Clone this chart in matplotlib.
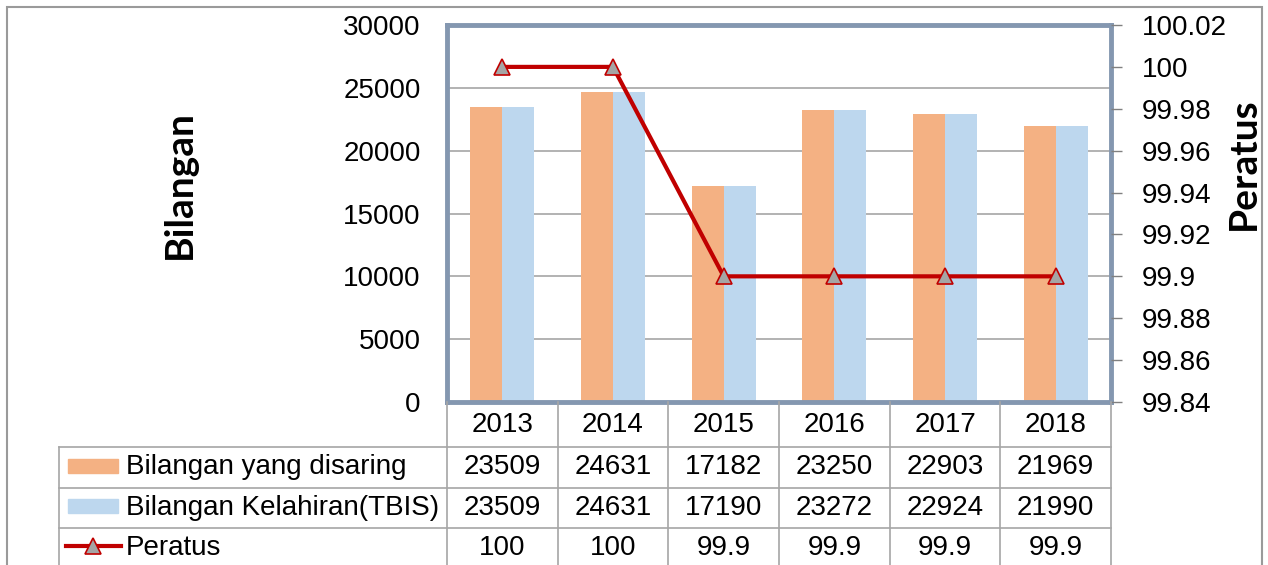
import numpy as np
import matplotlib.pyplot as plt
from matplotlib.lines import Line2D
from matplotlib.patches import Rectangle

# data
years = ['2013', '2014', '2015', '2016', '2017', '2018']
disaring = [23509, 24631, 17182, 23250, 22903, 21969]
kelahiran = [23509, 24631, 17190, 23272, 22924, 21990]
peratus = [100, 100, 99.9, 99.9, 99.9, 99.9]
peratus_txt = ['100', '100', '99.9', '99.9', '99.9', '99.9']

ORANGE = '#F4B183'
BLUE = '#BDD7EE'
RED = '#C00000'
SPINE = '#8497B0'
GRID = '#A6A6A6'
FS = 20

W, H = 1268, 565
plt.rcParams['font.family'] = ['Liberation Sans', 'DejaVu Sans']

fig = plt.figure(figsize=(W / 100, H / 100), dpi=100)


def fx(x):
    return x / W


def fy(y):
    return 1 - y / H


# plot area in image pixels
L, R, T, B = 447, 1111, 25, 402
ax = fig.add_axes([fx(L), fy(B), fx(R) - fx(L), fy(T) - fy(B)])

x = np.arange(len(years))
bw = 0.29
ax.bar(x - bw / 2, disaring, bw, color=ORANGE, zorder=2)
ax.bar(x + bw / 2, kelahiran, bw, color=BLUE, zorder=2)
ax.set_xlim(-0.5, len(years) - 0.5)
ax.set_ylim(0, 30000)
ax.set_yticks(np.arange(0, 30001, 5000))
ax.set_xticks([])
ax.grid(axis='y', color=GRID, linewidth=1.2, zorder=0)
ax.tick_params(axis='y', length=0, labelsize=FS, pad=19)
for s in ax.spines.values():
    s.set_color(SPINE)
    s.set_linewidth(3.5)

ax2 = ax.twinx()
ax2.plot(x, peratus, color=RED, linewidth=3, marker='^', markersize=12,
         markerfacecolor='#A5A5A5', markeredgecolor=RED, markeredgewidth=1.2,
         zorder=5, clip_on=False)
ax2.set_ylim(99.84, 100.02)
ax2.set_yticks(np.arange(99.84, 100.021, 0.02))
ax2.set_yticklabels(['99.84', '99.86', '99.88', '99.9', '99.92', '99.94',
                     '99.96', '99.98', '100', '100.02'])
ax2.tick_params(axis='y', length=8, width=1, color='#808080', labelsize=FS, pad=14)
for s in ax2.spines.values():
    s.set_visible(False)

fig.text(fx(179), fy(185), 'Bilangan', rotation=90, ha='center', va='center',
         fontsize=28, fontweight='bold', family=['Lato', 'DejaVu Sans'])
fig.text(fx(1243), fy(164), 'Peratus', rotation=90, ha='center', va='center',
         fontsize=28, fontweight='bold', family=['Lato', 'DejaVu Sans'])

# outer chart border
fig.add_artist(Rectangle((fx(7), fy(H + 20)), fx(1262) - fx(7), fy(7) - fy(H + 20),
                         fill=False, edgecolor='#9A9A9A', linewidth=1.5,
                         transform=fig.transFigure))

# data table
colw = (R - L) / len(years)
tl = 59
rows_y = [447, 488, 528, 569]
tline = dict(color=GRID, linewidth=1.2, transform=fig.transFigure)
for yy in rows_y:
    fig.add_artist(Line2D([fx(tl), fx(R)], [fy(yy), fy(yy)], **tline))
fig.add_artist(Line2D([fx(tl), fx(tl)], [fy(447), fy(H + 5)], **tline))
for i in range(len(years) + 1):
    xx = L + i * colw
    fig.add_artist(Line2D([fx(xx), fx(xx)], [fy(B), fy(H + 5)], **tline))

for i, yr in enumerate(years):
    cx = fx(L + (i + 0.5) * colw)
    fig.text(cx, fy(425), yr, ha='center', va='center', fontsize=FS)
    fig.text(cx, fy(467), str(disaring[i]), ha='center', va='center', fontsize=FS)
    fig.text(cx, fy(508), str(kelahiran[i]), ha='center', va='center', fontsize=FS)
    fig.text(cx, fy(548), peratus_txt[i], ha='center', va='center', fontsize=FS)

# legend keys
fig.add_artist(Rectangle((fx(68), fy(473)), fx(118) - fx(68), fy(459) - fy(473),
                         color=ORANGE, transform=fig.transFigure))
fig.add_artist(Rectangle((fx(68), fy(513)), fx(118) - fx(68), fy(499) - fy(513),
                         color=BLUE, transform=fig.transFigure))
fig.add_artist(Line2D([fx(66), fx(121)], [fy(546), fy(546)], color=RED, linewidth=3,
                      transform=fig.transFigure))
fig.add_artist(Line2D([fx(93)], [fy(546)], marker='^', markersize=12,
                      markerfacecolor='#A5A5A5', markeredgecolor=RED,
                      markeredgewidth=1.2, transform=fig.transFigure))
labels = ['Bilangan yang disaring', 'Bilangan Kelahiran(TBIS)', 'Peratus']
for lab, yy in zip(labels, [467, 508, 548]):
    fig.text(fx(126), fy(yy), lab, ha='left', va='center', fontsize=FS)

fig.savefig('out.png', dpi=100)
